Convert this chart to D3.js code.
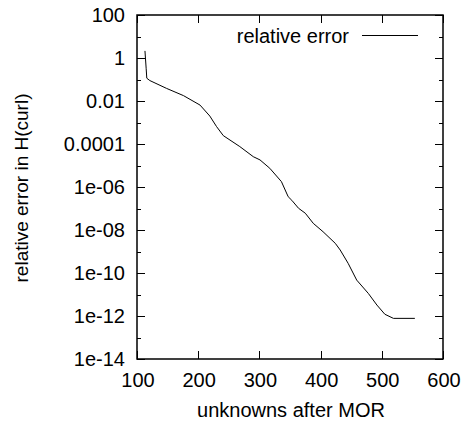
<!DOCTYPE html>
<html>
<head>
<meta charset="utf-8">
<script src="https://cdn.jsdelivr.net/npm/d3@7"></script>
<style>
  body { margin: 0; background: #fff; }
  text { font-family: "Liberation Sans", Arial, sans-serif; }
</style>
</head>
<body>
<svg width="464" height="421"></svg>
<script>
// values
var unknowns = [113, 115, 116, 121, 148, 176, 203, 219, 230, 241, 268, 290, 301, 317, 336, 347, 353, 364, 375, 388, 404, 424, 432, 445, 459, 478, 492, 505, 519, 554];
var logErr = [0.33, -0.5, -0.94, -1.05, -1.41, -1.75, -2.19, -2.7, -3.19, -3.61, -4.12, -4.59, -4.74, -5.13, -5.75, -6.45, -6.62, -6.99, -7.22, -7.69, -8.08, -8.62, -8.93, -9.55, -10.33, -10.95, -11.49, -11.92, -12.11, -12.11];
var xTicks = [100, 200, 300, 400, 500, 600];
var yTicks = [1e2, 1, 1e-2, 1e-4, 1e-6, 1e-8, 1e-10, 1e-12, 1e-14];
var yTickLabels = ["100", "1", "0.01", "0.0001", "1e-06", "1e-08", "1e-10", "1e-12", "1e-14"];
var yMinor = [1e1, 1e-1, 1e-3, 1e-5, 1e-7, 1e-9, 1e-11, 1e-13];

// plot box (note: "top" is taken by window.top)
var pLeft = 137, pRight = 443, pTop = 15, pBottom = 359;

var svg = d3.select('svg');

var x = d3.scaleLinear().domain([100, 600]).range([pLeft, pRight]);
var y = d3.scaleLog().domain([1e-14, 1e2]).range([pBottom, pTop]);

var points = [];
for (var i = 0; i < unknowns.length; i++) {
  points.push({x: unknowns[i], y: Math.pow(10, logErr[i])});
}

// ticks, drawn inward on all four sides
var g = svg.append('g').attr('stroke', '#000').attr('stroke-width', 1);
xTicks.forEach(function(t) {
  var px = Math.round(x(t)) + 0.5;
  g.append('line').attr('x1', px).attr('x2', px).attr('y1', pBottom).attr('y2', pBottom - 8);
  g.append('line').attr('x1', px).attr('x2', px).attr('y1', pTop).attr('y2', pTop + 8);
});
yTicks.forEach(function(t) {
  var py = Math.round(y(t)) + 0.5;
  g.append('line').attr('x1', pLeft).attr('x2', pLeft + 8).attr('y1', py).attr('y2', py);
  g.append('line').attr('x1', pRight).attr('x2', pRight - 8).attr('y1', py).attr('y2', py);
});
yMinor.forEach(function(t) {
  var py = Math.round(y(t)) + 0.5;
  g.append('line').attr('x1', pLeft).attr('x2', pLeft + 4).attr('y1', py).attr('y2', py);
  g.append('line').attr('x1', pRight).attr('x2', pRight - 4).attr('y1', py).attr('y2', py);
});

// tick labels
svg.selectAll('.xl').data(xTicks).enter().append('text')
  .attr('x', function(d) { return x(d) + 1; })
  .attr('y', pBottom + 28)
  .attr('text-anchor', 'middle')
  .attr('font-size', 20)
  .text(function(d) { return d; });

svg.selectAll('.yl').data(yTicks).enter().append('text')
  .attr('x', pLeft - 12)
  .attr('y', function(d) { return y(d) + 7; })
  .attr('text-anchor', 'end')
  .attr('font-size', 20)
  .text(function(d, i) { return yTickLabels[i]; });

// the curve
var line = d3.line()
  .x(function(d) { return x(d.x); })
  .y(function(d) { return y(d.y); });

svg.append('path').datum(points)
  .attr('d', line)
  .attr('fill', 'none')
  .attr('stroke', '#000')
  .attr('stroke-width', 1);

// frame
svg.append('rect')
  .attr('x', pLeft).attr('y', pTop)
  .attr('width', pRight - pLeft).attr('height', pBottom - pTop)
  .attr('fill', 'none').attr('stroke', '#000').attr('stroke-width', 1.5);

// legend
svg.append('text').attr('x', 349).attr('y', 43)
  .attr('text-anchor', 'end').attr('font-size', 20)
  .text('relative error');
svg.append('line').attr('x1', 362).attr('x2', 418).attr('y1', 35.5).attr('y2', 35.5)
  .attr('stroke', '#000').attr('stroke-width', 1);

// axis titles
svg.append('text').attr('x', 291).attr('y', 417)
  .attr('text-anchor', 'middle').attr('font-size', 20)
  .text('unknowns after MOR');
svg.append('text')
  .attr('transform', 'translate(28,188) rotate(-90)')
  .attr('text-anchor', 'middle').attr('font-size', 19)
  .text('relative error in H(curl)');
</script>
</body>
</html>
